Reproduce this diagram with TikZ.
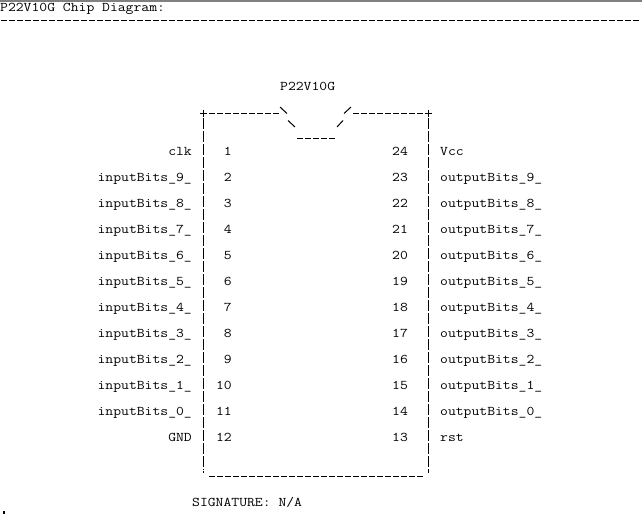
\documentclass[tikz,border=0pt]{standalone}
\usepackage{fontspec}
\setmonofont{Latin Modern Mono}[FakeStretch=1.1457]
\usetikzlibrary{calc}

\tikzset{
	chiptext/.style = {font=\ttfamily\fontsize{13.3}{13}\selectfont, inner sep=0pt, text=black},
	asciidash/.style = {line width=1pt, dash pattern=on 6pt off 2pt},
	asciibar/.style = {line width=1pt, dash pattern=on 10.5pt off 2.5pt},
	asciistroke/.style = {line width=1pt},
}

\begin{document}
\begin{tikzpicture}[x=1pt, y=-1pt]
		\def\xMIN{0};
		\def\xMAX{642};
		\def\yMIN{0};
		\def\yMAX{514};
		\def\xL{203.5};
		\def\xR{428};

		\useasboundingbox (\xMIN,\yMIN) rectangle (\xMAX,\yMAX);
		\draw [gray, line width=1.5pt] (\xMIN,0.75) -- (\xMAX,0.75);

		\node [chiptext, anchor=base west] (title) at (0,12) {P22V10G Chip Diagram:};
		\draw [asciidash] (1,20.5) -- (639,20.5);

		\node [chiptext, anchor=base west] (chipname) at (280,90) {P22V10G};

		% top edge with notch
		\begin{scope}[asciistroke]
			\draw (200,113.5) -- (207,113.5);
			\draw (\xL,110) -- (\xL,117);
			\draw [asciidash] (209,113.5) -- (279,113.5);
			\draw (280,107) -- (287,113.5);
			\draw (288,120.5) -- (295,127);
			\draw [asciidash] (297,138.5) -- (335,138.5);
			\draw (337,127) -- (343,120.5);
			\draw (344,113.5) -- (351,107);
			\draw [asciidash] (353,113.5) -- (423,113.5);
			\draw (424.5,113.5) -- (431.5,113.5);
			\draw (\xR,110) -- (\xR,117);
		\end{scope}

		% sides and bottom
		\draw [asciibar] (\xL,118) -- (\xL,470);
		\draw [asciibar] (\xR,118) -- (\xR,473);
		\fill (202.5,471) rectangle (204,472.5);
		\draw [asciidash] (209,476.5) -- (423,476.5);

		\foreach \i/\lname/\rname in {1/clk/Vcc, 2/inputBits\_9\_/outputBits\_9\_, 3/inputBits\_8\_/outputBits\_8\_,
			4/inputBits\_7\_/outputBits\_7\_, 5/inputBits\_6\_/outputBits\_6\_, 6/inputBits\_5\_/outputBits\_5\_,
			7/inputBits\_4\_/outputBits\_4\_, 8/inputBits\_3\_/outputBits\_3\_, 9/inputBits\_2\_/outputBits\_2\_,
			10/inputBits\_1\_/outputBits\_1\_, 11/inputBits\_0\_/outputBits\_0\_, 12/GND/rst}
		{
			\pgfmathsetmacro{\yb}{12 + 13*(11 + 2*(\i-1))}
			\pgfmathtruncatemacro{\j}{25 - \i}
			\node [chiptext, anchor=base east] (lpin\i) at (192,\yb) {\lname};
			\node [chiptext, anchor=base east] (lnum\i) at (232,\yb) {\i};
			\node [chiptext, anchor=base west] (rnum\j) at (392,\yb) {\j};
			\node [chiptext, anchor=base west] (rpin\j) at (440,\yb) {\rname};
		}

		\node [chiptext, anchor=base west] (sig) at (192,506) {SIGNATURE: N/A};
		\fill (2.7,511.3) rectangle (4.7,514);
	\end{tikzpicture}
\end{document}
